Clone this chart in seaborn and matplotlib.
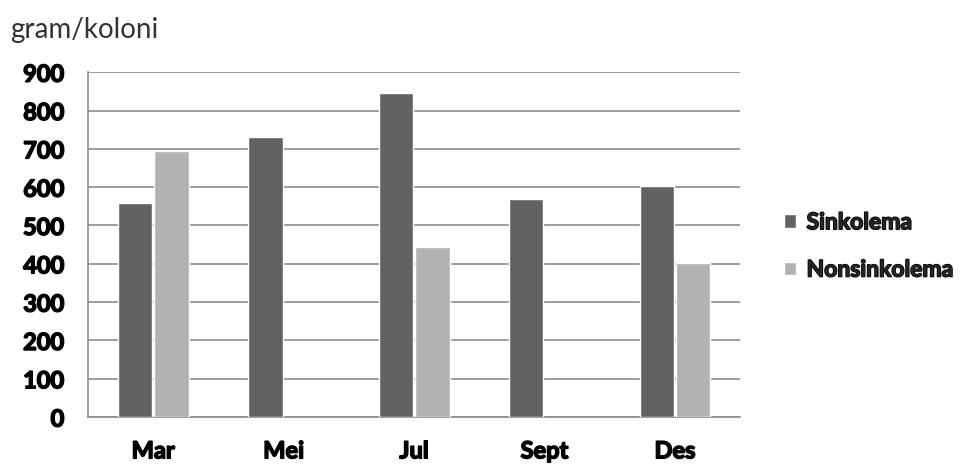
import numpy as np
import pandas as pd
import matplotlib
matplotlib.use("Agg")
import matplotlib.pyplot as plt
import matplotlib.patheffects as pe
import seaborn as sns

# data
bulan = ["Mar", "Mei", "Jul", "Sept", "Des"]
sinkolema = [560, 730, 845, 570, 603]
nonsinkolema = [695, np.nan, 445, np.nan, 403]

df = pd.DataFrame({
    "bulan": bulan * 2,
    "nilai": sinkolema + nonsinkolema,
    "jenis": ["Sinkolema"] * 5 + ["Nonsinkolema"] * 5,
})

sns.set_theme(style="white")
plt.rcParams["font.family"] = ["Lato", "DejaVu Sans"]

fig = plt.figure(figsize=(9.72, 4.66), dpi=100)
ax = fig.add_axes([0.0905, 0.105, 0.671, 0.740])

warna = {"Sinkolema": "#626262", "Nonsinkolema": "#b2b2b2"}
sns.barplot(data=df, x="bulan", y="nilai", hue="jenis", palette=warna,
            width=0.56, gap=0.06, edgecolor="white", linewidth=1.0,
            saturation=1, ax=ax, zorder=3)

ax.set_ylim(0, 900)
ax.set_xlim(-0.5, 4.5)
ax.set_yticks(range(0, 901, 100))
ax.yaxis.grid(True, color="#8c8c8c", linewidth=1.2)
ax.set_axisbelow(True)
for s in ["top", "right"]:
    ax.spines[s].set_visible(False)
for s in ["left", "bottom"]:
    ax.spines[s].set_color("#8c8c8c")
    ax.spines[s].set_linewidth(1.2)
ax.set_xlabel("")
ax.set_ylabel("")
ax.tick_params(axis="y", length=0, pad=17, labelsize=17, labelcolor="black")
ax.tick_params(axis="x", length=0, pad=16, labelsize=17, labelcolor="black")

# make the labels look heavier, like the original
tebal = [pe.withStroke(linewidth=1.1, foreground="black")]
for t in ax.get_xticklabels() + ax.get_yticklabels():
    t.set_fontweight("bold")
    t.set_path_effects(tebal)

fig.text(0.010, 0.935, "gram/koloni", fontsize=20, color="#333333",
         ha="left", va="center")

leg = ax.legend(loc="center left", bbox_to_anchor=(1.035, 0.495), frameon=False,
                prop={"weight": "bold", "size": 16.5}, handlelength=0.55,
                handleheight=0.55, handletextpad=0.45, labelspacing=1.15)
for t in leg.get_texts():
    t.set_path_effects(tebal)

fig.savefig("out.png", dpi=100)
